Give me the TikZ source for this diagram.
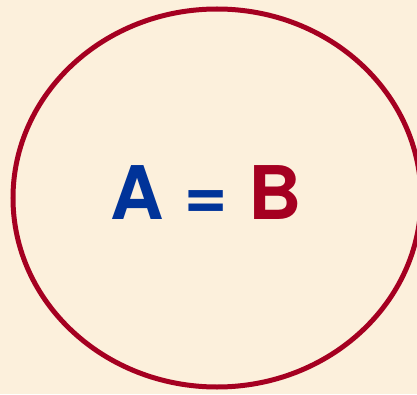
\documentclass[tikz,border=0pt]{standalone}
\usepackage{fontspec}
\setmainfont{TeX Gyre Heros}
\definecolor{bgcream}{HTML}{FCF0DC}
\definecolor{ringred}{HTML}{A50021}
\definecolor{textblue}{HTML}{003399}
\begin{document}
\begin{tikzpicture}[x=1pt,y=1pt,
  ring/.style={draw=ringred,line width=5pt},
  eqtext/.style={font=\bfseries\fontsize{74}{80}\selectfont,inner sep=0pt,anchor=base}]
\fill[bgcream] (0,0) rectangle (417,394);
\useasboundingbox (0,0) rectangle (417,394);
\draw[ring] (217,196) ellipse [x radius=204, y radius=189];
\node[eqtext] (eq) at (206,175) {\textcolor{textblue}{A =} \textcolor{ringred}{B}};
\end{tikzpicture}
\end{document}
